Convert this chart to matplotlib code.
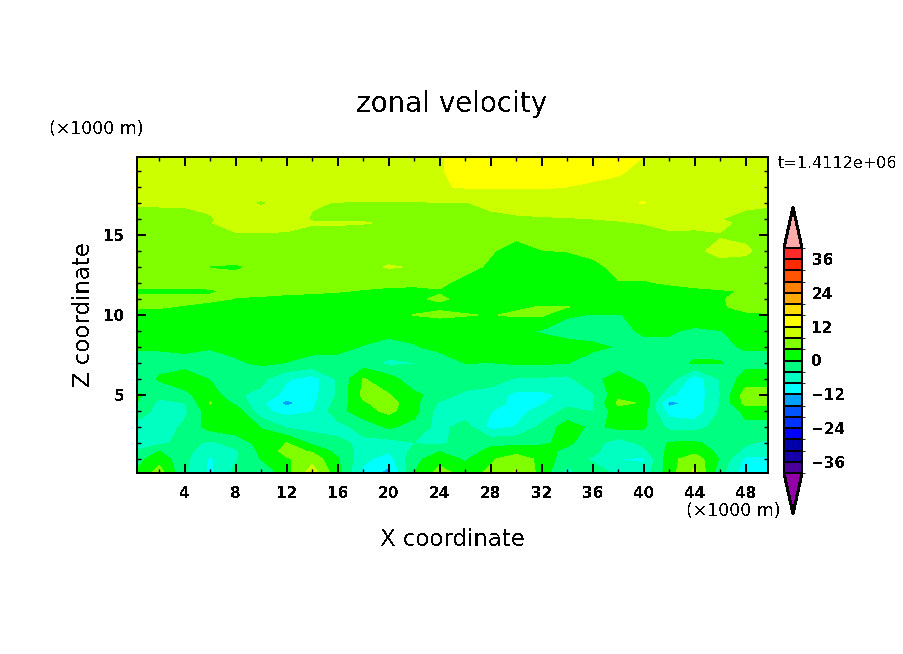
import numpy as np
import matplotlib
matplotlib.use('Agg')
import matplotlib.pyplot as plt
from matplotlib.colors import ListedColormap, BoundaryNorm

# x points (x1000 m), one value per column in every row below
x_km = [0, 2, 4, 6, 8, 10, 12, 14, 16, 18, 20, 22, 24, 26, 28, 30, 32, 34, 36, 38, 40, 42, 44, 46, 48, 50]

# zonal velocity, one list per height
u_z20 = [10.5, 10.5, 10.5, 10.5, 10.5, 10.5, 10.5, 10.5, 11, 11, 11, 11, 11.8, 13, 13.5, 13.5, 13.5, 13.5, 13.5, 13, 12.1, 11, 10.5, 10.5, 10.5, 10.5]
u_z19 = [10, 10, 10, 10, 10, 10, 10.2, 10.5, 10.5, 10.8, 11, 11, 11.8, 13, 13.5, 13.5, 13.5, 13.5, 13, 12.5, 11, 10.5, 10, 10, 10, 10]
u_z18 = [9.5, 9.5, 9.5, 9.5, 9.5, 9.5, 9.5, 9.5, 9.8, 10, 10.2, 10.5, 11.7, 12.3, 12.3, 12.3, 12.3, 12, 11.5, 11, 10.5, 10, 10, 10, 9.8, 9.5]
u_z17 = [8.5, 8.5, 8.5, 8.5, 8.8, 7.7, 9, 8.2, 7.9, 7.8, 7.8, 7.8, 7.8, 7.8, 9, 9.5, 9.7, 10, 10, 11, 12.2, 10, 9.5, 9, 8.8, 8.5]
u_z16 = [6.5, 6.5, 6.7, 7.8, 9, 9.5, 9, 7.8, 7.8, 7.8, 7.5, 7.5, 7.5, 7.5, 7, 7.5, 7.7, 7.8, 8, 8.2, 8.5, 9, 9, 8.1, 7, 6.5]
u_z15h = [6.5, 6.5, 6.7, 7.9, 9, 9.2, 8.8, 8.2, 8.2, 8.1, 7.8, 7.3, 7.3, 7.3, 6.8, 7, 7.2, 7.3, 7.5, 7.8, 8.1, 8.7, 8.8, 8.8, 7, 6.5]
u_z15 = [6, 6, 6, 6.5, 7.7, 7.7, 7.7, 7.2, 7.2, 7, 6.8, 6.5, 6.5, 6.5, 5.5, 4.7, 5.5, 6, 6, 6.5, 7, 7.6, 7.4, 7.8, 7.3, 6.5]
u_z14 = [5.5, 5.5, 5.5, 5.5, 5.5, 5.7, 6, 6, 6, 6, 6, 5.8, 5.5, 5, 4.3, 2.7, 3.9, 4.1, 5, 5.5, 6, 6.5, 7.5, 8.7, 8.5, 6.5]
u_z13 = [5, 5, 5, 3.9, 3.7, 4.5, 5.5, 6, 6.5, 7, 8.3, 7.7, 5.5, 5, 3.5, 2.5, 2.5, 2.5, 3, 5, 5.5, 6, 6.5, 7, 6.8, 6]
u_z12 = [5, 5, 5, 5, 5, 5, 5, 5, 5, 5, 4.9, 4.8, 4.6, 3, 2, 2, 2, 2, 2.5, 3.8, 3.7, 4.3, 5, 5.5, 5.5, 5.5]
u_z11h = [3.5, 3.5, 3.5, 3.7, 4.5, 5, 4.6, 4.5, 4.2, 3.8, 3.3, 3.1, 3.8, 3, 2, 2, 2, 2, 2, 3, 3, 3, 3.3, 3.7, 4.2, 5]
u_z11 = [4.5, 4.6, 4.7, 4.5, 3.9, 3.5, 3.3, 3, 2.8, 2.8, 2.8, 3.7, 4.3, 3.4, 2, 2, 2, 2, 2, 2, 2, 2.5, 3, 3.8, 4.8, 5.5]
u_z10h = [4.3, 4.2, 3.8, 3.2, 3, 2.8, 2.8, 2.8, 2.6, 2.5, 2.3, 3, 3.5, 3, 3, 3.5, 4.2, 4.1, 3, 2.5, 2, 2, 2.5, 3.8, 4.5, 5]
u_z10 = [3.2, 3, 2.7, 2.5, 2.5, 2.5, 2.5, 2.5, 2.5, 2.5, 2.5, 4.1, 4.6, 4.2, 3.8, 4.5, 4.6, 0.4, -0.2, -0.3, 1.5, 2, 2.5, 3, 3.7, 3.8]
u_z09 = [2, 2, 2, 2, 2, 2.2, 2.2, 2, 2, 1.5, 0.8, 1.2, 1.5, 1.5, 1, 0.5, -0.3, -1.5, -1.5, -1, 0.5, 0.5, -0.7, -0.1, 1, 1.5]
u_z08 = [1, 0.5, 1, 0.3, 1, 1.5, 1.5, 1, 0.8, -0.2, -1, -0.3, 1, 1.5, 1.5, 1.5, 1.5, 1.5, 0.7, -0.3, -1, -1, -1.5, -1, 0.5, 0.5]
u_z07 = [-3, -1.5, -1.5, -1.5, -0.5, 0.6, -0.1, -1, -1, -2, -5, -4.1, -2, 0.1, -0.1, 0.5, 0.5, 0.1, -1.5, -1.8, -2, -2, 0.5, 0.2, -1.5, -1.5]
u_z06 = [-4.5, 0.5, 2, -0.2, -2, -3, -7.5, -10, -3.5, 4.2, 2, -3, -2, -1.5, -2, -4.5, -4.5, -5, -1, 1.5, -1, -2, -10.5, -3.8, 2, 2.5]
u_z05 = [1.5, -3, -1, 2.5, -3.5, -5, -9.5, -9.5, -3.5, 5, 4.2, 1, -2, -5, -6, -9, -9, -7, -4.5, 3, 2, -7, -11, -4, 6, 5.5]
u_z04h = [0.5, -5, -4, 4.3, -1, -7, -13.5, -9, -2.5, 3.5, 5.8, 1.2, -4.5, -6, -6.5, -9, -8.5, -5, -4.4, 4.8, 3.6, -13.5, -10.5, -3.8, 5.5, 5]
u_z04 = [0.2, -6, -5, 2.5, 2.5, -7, -9.5, -8.2, -1.5, 2.5, 5, 1.5, -6, -7, -7.9, -9.5, -6.5, -3, -4.2, 2.5, 1.5, -10, -11, -3.5, 1, 1]
u_z03 = [-5.5, -7, -3, 1.5, 2.5, -0.2, -4.5, -5.5, -5.5, -2.5, 0.6, -1.5, -5.5, -2, -9.5, -7.8, -3, 2, -1, 1, 0.5, -5, -5.5, -2.5, -0.8, -1]
u_z02 = [-5.5, -5, -2.5, -4.8, -2.5, 1.5, 4.1, -1, -3, -5, -5.5, -4.1, -5, -1.8, -1, -1, -0.5, 0.8, -2.5, -6, -3, 0.3, 0.5, -1.2, -3.5, -5]
u_z01h = [-4, 0, -3, -6, -4.5, 1, 5.5, 3.5, -1.5, -5.5, -7.5, -3, -0.2, -2, 1, 2.5, 1.5, -1, -3, -6.5, -5, 1, 2.5, -1, -5, -6]
u_z01 = [-2, 2.5, -3, -8.5, -4.5, 0.2, 3.5, 6.5, 0.5, -7, -10, -1, 2, -0.5, 3.5, 6, 3, -2.5, -4.5, -8.1, -8.6, 2.5, 6.5, -0.5, -9, -9]
u_z00 = [0.2, 6.5, -3.5, -9, -2.5, -6, 2.5, 11, 1.5, -9.5, -14, 0.2, 6.5, 2.5, 5, 9, 2.5, -6, -1.5, -4.5, -6, 2, 9.5, -3, -11, -10]

z_km = [0, 1, 1.5, 2, 3, 4, 4.5, 5, 6, 7, 8, 9, 10, 10.5, 11, 11.5, 12, 13, 14, 15, 15.75, 16, 17, 18, 19, 20]

levels = list(range(-40, 41, 4))
colors = ['#4B0099', '#1800A8', '#0000A8', '#0000FF', '#0033FF', '#0055FF', '#00A0FF', '#00FFFF',
          '#00FFC0', '#00FF80', '#00FF00', '#80FF00', '#CCFF00', '#FFFF00', '#FFDD00', '#FFAA00',
          '#FF7F00', '#FF5500', '#FF2A00', '#FF2A2A']
under_color = '#9400A8'
over_color = '#FFAAAA'

cbar_ticks = [-36, -24, -12, 0, 12, 24, 36]
x_major = [4, 8, 12, 16, 20, 24, 28, 32, 36, 40, 44, 48]
x_minor = [2, 6, 10, 14, 18, 22, 26, 30, 34, 38, 42, 46]
z_major = [5, 10, 15]
z_minor = [1, 2, 3, 4, 6, 7, 8, 9, 11, 12, 13, 14, 16, 17, 18, 19]

W, H = 904, 654

plt.rcParams['text.antialiased'] = False
plt.rcParams['lines.antialiased'] = False
plt.rcParams['patch.antialiased'] = False


def box(left, top, right, bottom):
    return [left / W, 1 - bottom / H, (right - left) / W, (bottom - top) / H]


def label(px, py, s, **kw):
    fig.text(px / W, 1 - py / H, s, ha=kw.pop('ha', 'center'), va='center', **kw)


fig = plt.figure(figsize=(W / 100, H / 100), dpi=100)
ax = fig.add_axes(box(137, 157, 768, 473))

u = np.array([u_z00, u_z01, u_z01h, u_z02, u_z03, u_z04, u_z04h, u_z05, u_z06, u_z07, u_z08, u_z09, u_z10, u_z10h,
              u_z11, u_z11h, u_z12, u_z13, u_z14, u_z15, u_z15h, u_z16, u_z17, u_z18, u_z19, u_z20])

cmap = ListedColormap(colors)
cmap.set_under(under_color)
cmap.set_over(over_color)
norm = BoundaryNorm(levels, cmap.N)

cf = ax.contourf(x_km, z_km, u, levels=levels, cmap=cmap, norm=norm, extend='both', antialiased=False)
ax.set_xlim(0.25, 49.75)
ax.set_ylim(0.125, 19.875)

ax.set_xticks(x_major)
ax.set_xticks(x_minor, minor=True)
ax.set_yticks(z_major)
ax.set_yticks(z_minor, minor=True)
ax.tick_params(which='major', direction='in', top=True, right=True, length=6.5, width=1.4, labelsize=11, pad=9)
ax.tick_params(which='minor', direction='in', top=True, right=True, length=3, width=1)
for t in ax.get_xticklabels() + ax.get_yticklabels():
    t.set_fontweight('bold')
for s in ax.spines.values():
    s.set_linewidth(1.3)

# colour bar with triangle ends, axes box includes the triangles
cax = fig.add_axes(box(784, 207, 802, 514))
cb = fig.colorbar(cf, cax=cax, ticks=cbar_ticks, extend='both', extendfrac=0.181, drawedges=True)
cb.dividers.set_linewidth(1.4)
cb.dividers.set_color('black')
cb.outline.set_linewidth(1.4)
cax.tick_params(length=0, labelsize=11, pad=7)
for t in cax.get_yticklabels():
    t.set_fontweight('bold')

label(452, 104, 'zonal velocity', fontsize=20)
label(96, 129, '(×1000 m)', fontsize=12.5)
label(733, 511, '(×1000 m)', fontsize=12.5)
label(452, 540, 'X coordinate', fontsize=16.5)
label(83, 315, 'Z coordinate', fontsize=16.5, rotation=90)
label(778, 163, 't=1.4112e+06', fontsize=11.5, ha='left')

fig.savefig('out.png', dpi=100)
